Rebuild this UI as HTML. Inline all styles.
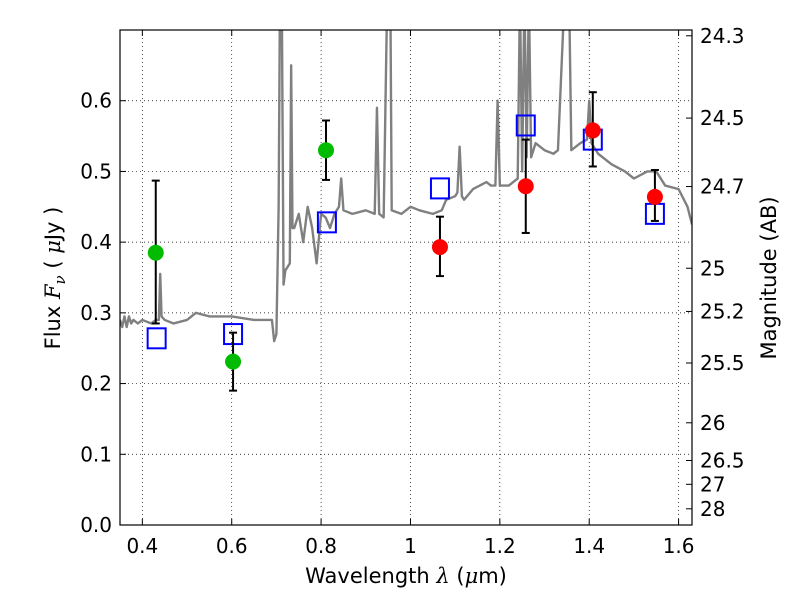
<!DOCTYPE html>
<html><head><meta charset="utf-8"><style>body{margin:0;background:#fff}svg{font-family:"DejaVu Sans","Liberation Sans",sans-serif}</style></head>
<body>
<svg id="chart" width="800" height="600">
<defs><clipPath id="clip"><rect x="120" y="30" width="572" height="495"/></clipPath></defs>
<g id="grid"></g>
<g id="spec" clip-path="url(#clip)"></g>
<g id="marks"></g>
<rect x="120" y="30" width="572" height="495" fill="none" stroke="#000" stroke-width="1.2"/>
<g id="axes"></g>
<text x="406" y="583" font-size="21" text-anchor="middle">Wavelength  <tspan font-style="italic" font-family="DejaVu Serif,serif">λ</tspan> (<tspan font-style="italic" font-family="DejaVu Serif,serif">μ</tspan>m)</text>
<text transform="translate(60,278) rotate(-90)" font-size="21" text-anchor="middle">Flux  <tspan font-style="italic" font-family="DejaVu Serif,serif">F<tspan font-size="15" dy="5">ν</tspan></tspan><tspan dy="-5">  ( </tspan><tspan font-style="italic" font-family="DejaVu Serif,serif">μ</tspan>Jy )</text>
<text transform="translate(776,278) rotate(-90)" font-size="21" text-anchor="middle">Magnitude (AB)</text>
</svg>
<script>
const specWave=[0.35,0.355,0.36,0.365,0.37,0.375,0.38,0.39,0.40,0.42,0.43,0.437,0.44,0.443,0.45,0.47,0.50,0.52,0.55,0.6,0.65,0.68,0.69,0.695,0.70,0.705,0.708,0.712,0.716,0.72,0.73,0.733,0.736,0.74,0.75,0.76,0.77,0.78,0.79,0.80,0.81,0.82,0.83,0.84,0.845,0.85,0.87,0.9,0.92,0.925,0.93,0.94,0.948,0.955,0.958,0.98,1.0,1.02,1.05,1.07,1.08,1.10,1.105,1.11,1.115,1.12,1.14,1.17,1.18,1.19,1.195,1.20,1.22,1.24,1.245,1.25,1.255,1.26,1.265,1.27,1.28,1.30,1.32,1.33,1.345,1.355,1.36,1.38,1.395,1.40,1.405,1.42,1.45,1.48,1.50,1.53,1.55,1.57,1.60,1.62,1.63];
const specFlux=[0.29,0.28,0.295,0.28,0.295,0.285,0.29,0.285,0.29,0.285,0.29,0.29,0.355,0.295,0.29,0.285,0.29,0.30,0.295,0.295,0.29,0.29,0.29,0.26,0.27,0.45,0.75,0.75,0.34,0.36,0.37,0.65,0.42,0.42,0.44,0.40,0.45,0.42,0.37,0.44,0.435,0.42,0.44,0.45,0.49,0.445,0.44,0.445,0.44,0.59,0.44,0.435,0.75,0.75,0.445,0.44,0.45,0.445,0.44,0.445,0.46,0.465,0.47,0.535,0.465,0.46,0.475,0.485,0.48,0.48,0.60,0.48,0.48,0.49,0.75,0.5,0.75,0.52,0.75,0.52,0.54,0.53,0.525,0.53,0.75,0.75,0.53,0.54,0.545,0.60,0.54,0.525,0.51,0.50,0.49,0.50,0.50,0.48,0.475,0.45,0.425];
const greenWave=[0.43,0.603,0.811];
const greenFlux=[0.385,0.231,0.53];
const greenLo=[0.285,0.19,0.488];
const greenHi=[0.487,0.272,0.572];
const redWave=[1.066,1.258,1.408,1.547];
const redFlux=[0.393,0.479,0.558,0.464];
const redLo=[0.352,0.413,0.507,0.43];
const redHi=[0.436,0.545,0.612,0.502];
const modelWave=[0.432,0.603,0.813,1.066,1.258,1.408,1.547];
const modelFlux=[0.264,0.27,0.428,0.476,0.565,0.545,0.44];
const xTicks=[0.4,0.6,0.8,1.0,1.2,1.4,1.6];
const xTickLabels=["0.4","0.6","0.8","1","1.2","1.4","1.6"];
const yTicks=[0,0.1,0.2,0.3,0.4,0.5,0.6];
const magTicks=[24.3,24.5,24.7,25,25.2,25.5,26,26.5,27,28];

const X=v=>120+(v-0.35)/(1.63-0.35)*572;
const Y=f=>525-f/0.7*495;
const NS="http://www.w3.org/2000/svg";
function mk(tag,attrs,parent,text){const e=document.createElementNS(NS,tag);for(const k in attrs)e.setAttribute(k,attrs[k]);if(text!==undefined)e.textContent=text;parent.appendChild(e);return e;}
const grid=document.getElementById('grid'),axes=document.getElementById('axes'),spec=document.getElementById('spec'),marks=document.getElementById('marks');
xTicks.forEach((t,i)=>{
 const l=mk('line',{x1:X(t),x2:X(t),y1:30,y2:525,stroke:'#000','stroke-width':0.7,'stroke-dasharray':'1,3'},grid);
 
 
 mk('line',{x1:X(t),x2:X(t),y1:525,y2:519,stroke:'#000'},axes);
 mk('line',{x1:X(t),x2:X(t),y1:30,y2:36,stroke:'#000'},axes);
 const tx=mk('text',{x:X(t),y:553,'font-size':20,'text-anchor':'middle'},axes,xTickLabels[i]);
 
 
});
yTicks.forEach(t=>{
 if(t>0){const l=mk('line',{x1:120,x2:692,y1:Y(t),y2:Y(t),stroke:'#000','stroke-width':0.7,'stroke-dasharray':'1,3'},grid);
 
 }
 mk('line',{x1:120,x2:126,y1:Y(t),y2:Y(t),stroke:'#000'},axes);
 const tx=mk('text',{x:112,y:Y(t)+7,'font-size':20,'text-anchor':'end'},axes,t.toFixed(1));
 
 
});
magTicks.forEach(m=>{
 const f=Math.pow(10,(23.9-m)/2.5);const y=Y(f);
 mk('line',{x1:686,x2:692,y1:y,y2:y,stroke:'#000'},axes);
 const tx=mk('text',{x:700,y:y+7,'font-size':20},axes,String(m));
 
 
});
const p=mk('polyline',{points:specWave.map((w,i)=>X(w)+','+Y(specFlux[i])).join(' '),fill:'none',stroke:'#808080','stroke-width':2.4,'stroke-linejoin':'round'},spec);


modelWave.forEach((w,i)=>{
 const r=mk('rect',{x:X(w)-9,y:Y(modelFlux[i])-10,width:18,height:20,fill:'none',stroke:'#0000ff','stroke-width':2},marks);
 
 
});
function pts(ws,fs,lo,hi,color,name){ws.forEach((w,i)=>{
 const x=X(w);
 const g=mk('g',{},marks);
 
 
 mk('line',{x1:x,x2:x,y1:Y(lo[i]),y2:Y(hi[i]),stroke:'#000','stroke-width':2},g);
 mk('line',{x1:x-4,x2:x+4,y1:Y(lo[i]),y2:Y(lo[i]),stroke:'#000','stroke-width':2},g);
 mk('line',{x1:x-4,x2:x+4,y1:Y(hi[i]),y2:Y(hi[i]),stroke:'#000','stroke-width':2},g);
 const c=mk('circle',{cx:x,cy:Y(fs[i]),r:8,fill:color},marks);
 
 
});}
pts(greenWave,greenFlux,greenLo,greenHi,'#00bb00','optical');
pts(redWave,redFlux,redLo,redHi,'#ff0000','infrared');
</script>
</body></html>
